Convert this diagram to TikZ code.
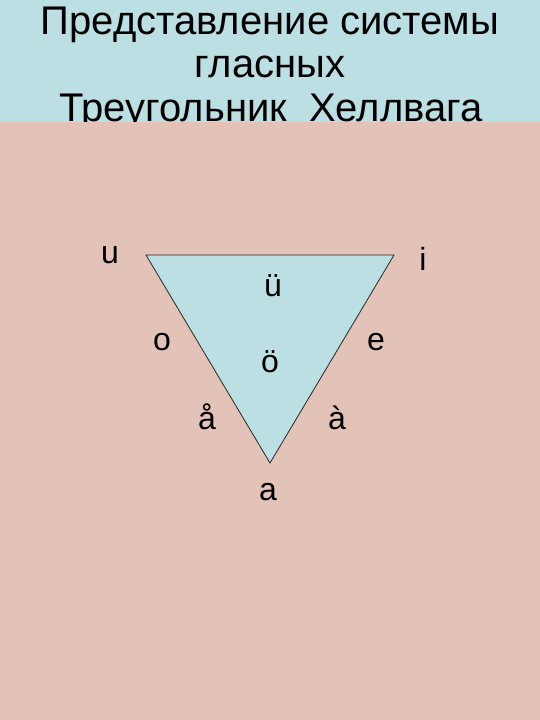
\documentclass[tikz,border=0pt]{standalone}
\usepackage{fontspec}
\setmainfont{Liberation Sans}
\definecolor{bandblue}{HTML}{BCDFE3}
\definecolor{bgpink}{HTML}{E3C2B7}
\definecolor{triblue}{HTML}{BCDFE3}
\begin{document}
\begin{tikzpicture}[x=1pt,y=-1pt,
  titletext/.style={anchor=base,inner sep=0pt,font=\fontsize{40}{40}\selectfont},
  vowel/.style={anchor=base,inner sep=0pt,font=\fontsize{32}{32}\selectfont}]
\useasboundingbox (0,0) rectangle (540,720);
\fill[bandblue] (0,0) rectangle (540,720);
\node[titletext] (t1) at (270,34) {Представление системы};
\node[titletext] (t2) at (270,77) {гласных};
\node[titletext] (t3) at (271,121) {Треугольник\ \ Хеллвага};
\fill[bgpink] (0,122) rectangle (540,720);
\coordinate (U) at (146,255);
\coordinate (I) at (394,255);
\coordinate (A) at (270,463);
\draw[fill=triblue,draw=black!85,line width=0.8pt,line join=miter] (U) -- (I) -- (A) -- cycle;
\node[vowel] (u) at (110,263) {u};
\node[vowel] (i) at (423,270) {i};
\node[vowel] (uu) at (273,296) {ü};
\node[vowel] (o) at (162,350) {o};
\node[vowel] (e) at (376,350) {e};
\node[vowel] (oo) at (270,372) {ö};
\node[vowel] (aa) at (207,429) {å};
\node[vowel] (ag) at (337,429) {à};
\node[vowel] (a) at (268,500) {a};
\end{tikzpicture}
\end{document}
